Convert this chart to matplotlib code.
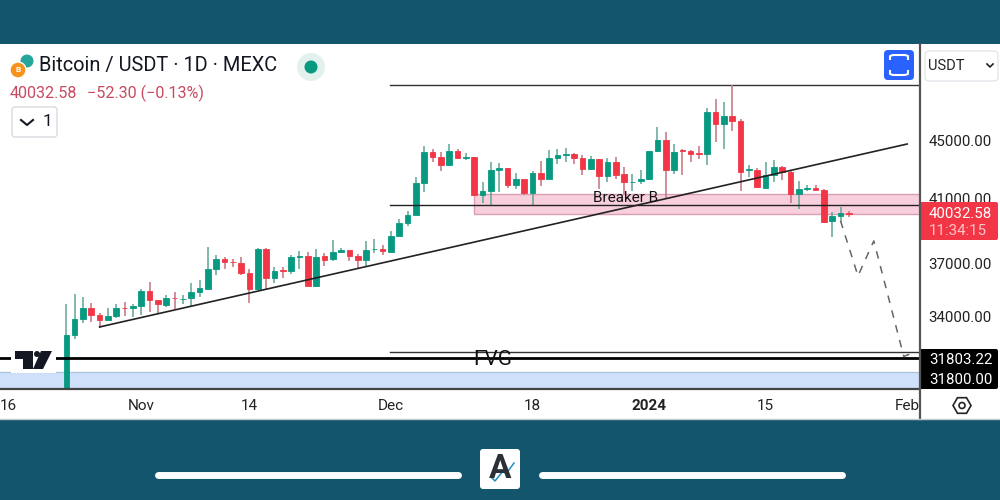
import matplotlib
matplotlib.use('Agg')
import matplotlib.pyplot as plt
from matplotlib.patches import FancyBboxPatch, Rectangle, Circle, Polygon, RegularPolygon
from matplotlib.ticker import NullLocator

plt.rcParams['font.family'] = ['Roboto', 'DejaVu Sans']

# daily candles from 23 Oct 2023, index 0 is the first day
opens = [29500,32980,33830,34440,34090,33810,34000,34470,34440,34590,35380,34880,34640,35020,34940,35010,35340,35530,36650,37280,37100,37040,36420,35500,37860,36130,36590,36550,37380,37420,35680,
	37400,37240,37680,37760,37420,37180,37820,37820,37680,38650,39440,39950,42030,44140,43810,43300,44230,43740,43810,41270,41490,42890,43050,41940,42300,41390,42690,42300,43720,43930,44020,
	43740,43010,43650,42530,43490,42620,42100,42190,42300,44230,45000,42890,44300,44210,44070,44000,47040,46170,46760,46410,42910,42890,41740,42550,43160,42800,41320,41670,41720,41590,39550,39890,40084.88]
highs = [34680,35250,35080,34750,34200,34440,34680,34800,34680,35500,35930,34880,35190,35340,35180,35840,36030,37940,37500,37340,37240,37380,36690,37920,37900,36750,36790,37480,37700,37640,37840,
	37580,38380,37880,37780,37540,38320,38450,38080,38960,39670,40210,42480,44570,44350,44140,44760,44400,44090,43810,42140,43490,43420,43050,42730,42320,42870,43530,44330,44350,44450,44090,
	43950,43860,43700,43740,43810,43160,42620,42940,44260,45940,45600,44760,44400,44280,44570,47340,48050,47800,49140,46590,43260,43080,43440,43580,43210,42940,42210,41890,41890,41670,40120,40490,40230]
lows = [29500,32770,33650,33690,33350,33810,33890,34000,33960,34070,34240,34110,34530,34420,34660,34490,35080,35530,36300,36650,36750,36320,34750,35440,35460,35840,36160,36360,36650,35680,35630,
	36840,37140,37580,37140,36690,36860,37600,37480,37620,38630,39290,39950,41450,43460,42870,43190,43650,43580,41270,40700,40550,41470,41690,41650,41270,40510,41870,42260,43350,43460,43350,
	42550,42890,41670,42140,42320,41320,41540,41990,42260,44190,41060,42670,42550,43440,43650,43240,44860,44370,45670,41540,42480,41740,41720,42120,42260,40700,40310,41490,41590,39420,38550,39510,39800]
closes = [32990,33830,34440,34070,33810,34000,34460,34440,34590,35380,34880,34660,34990,34990,34970,35340,35550,36650,37280,37100,37060,36420,35500,37860,36130,36550,36550,37340,37440,35680,37380,
	37220,37680,37760,37400,37180,37780,37860,37740,38670,39460,39950,42010,44140,43840,43300,44230,43770,43810,41270,41490,42890,43050,41940,42320,41390,42710,42280,43720,43930,44050,43740,
	43010,43650,42530,43490,42600,42100,42140,42320,44230,45000,42890,44190,44230,44020,44020,47060,46220,46740,46410,42820,42960,41760,42550,43140,42770,41320,41670,41720,41600,39530,39890,40060,40032.58]

# x labels are at whole days from the first candle
tick_days = [-7, 9, 22, 39, 56, 70, 84, 101]
tick_labels = ['16', 'Nov', '14', 'Dec', '18', '2024', '15', 'Feb']
price_ticks = [45000, 41000, 37000, 34000]
price_labels = ['45000.00', '41000.00', '37000.00', '34000.00']

# drawings on the chart: day, price
trend_days = [4, 101]
trend_prices = [33430, 44735]
top_level = 49140
mid_level = 40595
low_level = 32120
thick_level = 31803.22
level_start = 38.9
zone_start = 48.95
zone_low = 40015
zone_high = 41345
band_low = 30100
band_high = 31115
path_days = [93, 95.1, 97, 100.6, 101.6]
path_prices = [39590, 36260, 38340, 31900, 32060]

GREEN = '#089981'
RED = '#f23645'
TEAL = '#14556e'

fig = plt.figure(figsize=(10, 5), dpi=100, facecolor=TEAL)

# background in pixels
bg = fig.add_axes([0, 0, 1, 1], zorder=0)
bg.set_xlim(0, 1000)
bg.set_ylim(500, 0)
bg.axis('off')
bg.add_patch(Rectangle((0, 44), 1000, 375, fc='white', ec='none'))

# main chart
ax = fig.add_axes([0, 112 / 500, 918.5 / 1000, 344 / 500], zorder=1)
ax.patch.set_alpha(0)
ax.set_yscale('log')
ax.set_xlim(-7.97, 102.37)
ax.set_ylim(30333, 52460)
ax.yaxis.set_minor_locator(NullLocator())
for s in ax.spines.values():
	s.set_visible(False)

ax.axhspan(band_low, band_high, fc='#cfe0fb', ec='none', zorder=1)
ax.axhline(band_high, color='#a9c4d8', lw=0.9, zorder=1)
ax.add_patch(Rectangle((zone_start, zone_low), 120, zone_high - zone_low, fc='#f9cfdd', ec='#d9a0b4', lw=1, zorder=1))

for i in range(len(opens)):
	up = closes[i] >= opens[i]
	col = GREEN if up else RED
	wick = '#5fa596' if up else '#c4727f'
	ax.vlines(i, lows[i], highs[i], color=wick, lw=1.1, zorder=3)
	ax.bar(i, abs(closes[i] - opens[i]), bottom=min(opens[i], closes[i]), width=0.68, color=col, ec=col, lw=0.6, zorder=4)

ax.plot(trend_days, trend_prices, color='#222222', lw=1.2, zorder=5)
ax.plot([level_start, 120], [top_level, top_level], color='#333333', lw=1, zorder=2)
ax.plot([level_start, 120], [mid_level, mid_level], color='#222222', lw=1, zorder=5)
ax.plot([level_start, 120], [low_level, low_level], color='#333333', lw=1, zorder=2)
ax.axhline(thick_level, color='black', lw=2, zorder=5)
ax.plot(path_days, path_prices, color='#666666', lw=1.1, ls=(0, (5, 5)), zorder=5)
ax.text(67.2, 41050, 'Breaker B', ha='center', va='center', fontsize=11, color='#111111', zorder=6)
ax.text(51.2, 31750, 'FVG', ha='center', va='center', fontsize=15, color='#111111', zorder=6)

ax.set_xticks(tick_days)
ax.set_xticklabels(tick_labels, fontsize=11, color='#222222')
ax.get_xticklabels()[5].set_fontweight('bold')
ax.tick_params(axis='x', length=0, pad=8)
ax.yaxis.tick_right()
ax.set_yticks(price_ticks)
ax.set_yticklabels(price_labels, fontsize=10.8, color='#222222')
ax.tick_params(axis='y', length=0, pad=7)

# panel furniture and header, in pixels
top = fig.add_axes([0, 0, 1, 1], zorder=2)
top.set_xlim(0, 1000)
top.set_ylim(500, 0)
top.axis('off')
top.patch.set_alpha(0)

top.plot([0, 919], [388.5, 388.5], color='#444444', lw=1.6)
top.plot([919.5, 919.5], [44, 419], color='#555555', lw=1.6)
top.plot([0, 1000], [418.5, 418.5], color='#c4c8cc', lw=1)

# header
top.add_patch(Circle((27, 61), 6.5, fc='#26a69a', ec='none'))
top.add_patch(Circle((18, 70), 8, fc='#f7931a', ec='white', lw=1))
top.text(18, 70, 'B', color='white', fontsize=6, ha='center', va='center', fontweight='bold')
top.text(39, 66, 'Bitcoin / USDT · 1D · MEXC', fontsize=14.4, color='#131722', va='center')
top.add_patch(Circle((311, 67), 14, fc='#e3f1ee', ec='none'))
top.add_patch(Circle((311, 67), 6.5, fc=GREEN, ec='none'))
top.text(10, 93, '40032.58', fontsize=11.6, color='#c94a60', va='center')
top.text(87, 93, '−52.30 (−0.13%)', fontsize=11.6, color='#c94a60', va='center')
top.add_patch(FancyBboxPatch((12, 107), 45, 30, boxstyle='round,pad=0,rounding_size=3', fc='white', ec='#d8dade', lw=1))
top.plot([21, 27, 33], [120, 125, 120], color='#131722', lw=1.5)
top.text(47, 121.5, '1', fontsize=12.5, color='#131722', ha='center', va='center')

# tradingview mark
top.add_patch(Rectangle((11, 348), 45, 25, fc='white', ec='none'))
top.add_patch(Polygon([(15, 351), (33, 351), (33, 369), (23, 369), (23, 359), (15, 359)], fc='#131722', ec='none'))
top.add_patch(Polygon([(41, 351), (52, 351), (43, 369), (33, 369)], fc='#131722', ec='none'))
top.add_patch(Circle((37, 354), 3, fc='#131722', ec='none'))

# fullscreen button
top.add_patch(FancyBboxPatch((884, 50), 30, 30, boxstyle='round,pad=0,rounding_size=4', fc='#2962ff', ec='none'))
top.plot([890, 890, 893, 905, 908, 908], [59, 56, 55, 55, 56, 59], color='white', lw=1.5)
top.plot([890, 890, 893, 905, 908, 908], [71, 74, 75, 75, 74, 71], color='white', lw=1.5)

# currency selector
top.add_patch(FancyBboxPatch((925, 51), 73, 30, boxstyle='round,pad=0,rounding_size=4', fc='white', ec='#e4e6ea', lw=1))
top.text(928, 65.5, 'USDT', fontsize=10.5, color='#222222', va='center')
top.plot([987, 990, 993], [64, 67, 64], color='#222222', lw=1.2)

# price labels on the axis
top.add_patch(FancyBboxPatch((919, 202), 79, 38, boxstyle='round,pad=0,rounding_size=2', fc=RED, ec='none'))
top.text(929, 213.5, '40032.58', fontsize=10.8, color='white', va='center')
top.text(929, 231, '11:34:15', fontsize=10.8, color='#fbc4c9', va='center')
top.add_patch(FancyBboxPatch((919, 349), 79, 40, boxstyle='round,pad=0,rounding_size=2', fc='black', ec='none'))
top.text(929, 359.5, '31803.22', fontsize=10.8, color='white', va='center')
top.text(929, 380.5, '31800.00', fontsize=10.8, color='white', va='center')

# settings icon
top.add_patch(RegularPolygon((962, 405.5), 6, radius=9, orientation=1.5708, fc='white', ec='#222222', lw=1.2))
top.add_patch(Circle((962, 405.5), 3, fc='white', ec='#222222', lw=1.2))

# bottom bar
top.plot([158, 458], [475, 475], color='white', lw=5, solid_capstyle='round')
top.plot([542, 842], [475, 475], color='white', lw=5, solid_capstyle='round')
top.add_patch(FancyBboxPatch((480, 449), 40, 40, boxstyle='round,pad=0,rounding_size=3', fc='white', ec='none'))
top.text(500, 469, 'A', fontsize=24, color='#2b2f36', ha='center', va='center', fontweight='bold')
top.plot([491, 495, 503, 506, 514], [477, 481, 471, 474, 463], color='white', lw=2.4)
top.plot([491, 495, 503, 506, 514], [477, 481, 471, 474, 463], color='#1f8fc4', lw=1.1)

fig.savefig('out.png', dpi=100, facecolor=TEAL)
